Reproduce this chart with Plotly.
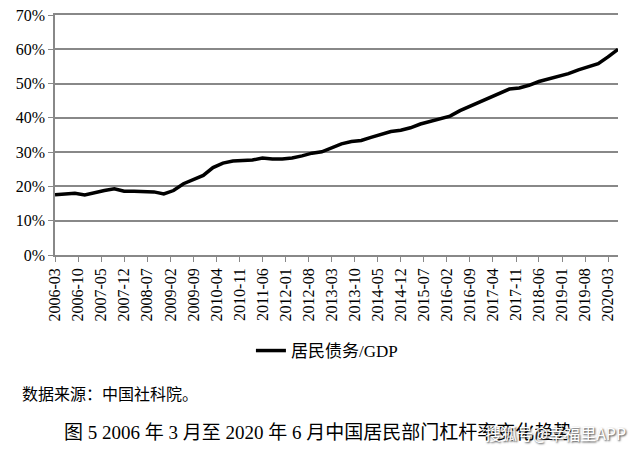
import pandas as pd
import plotly.graph_objects as go

# quarterly points, 2006-03 .. 2020-06
quarters = pd.date_range("2006-03-01", periods=58, freq="3MS")

# household debt / GDP (%)
debt_to_gdp = [
    17.6, 17.8, 18.0, 17.5, 18.2, 18.8, 19.3, 18.6, 18.6, 18.6,
    18.4, 17.8, 18.8, 20.8, 22.0, 23.2, 25.5, 26.8, 27.4, 27.5,
    27.7, 28.3, 28.0, 28.0, 28.3, 28.9, 29.7, 30.1, 31.3, 32.4,
    33.1, 33.4, 34.3, 35.2, 36.0, 36.4, 37.1, 38.2, 39.0, 39.6,
    40.5, 42.1, 43.4, 44.6, 46.0, 47.3, 48.4, 48.7, 49.5, 50.6,
    51.4, 52.1, 52.9, 54.0, 55.0, 55.8, 57.8, 60.0,
]

series_name = "居民债务/GDP"
source_text = "数据来源：中国社科院。"
caption_text = "图 5 2006 年 3 月至 2020 年 6 月中国居民部门杠杆率变化趋势"
watermark_text = "搜狐号@幸福里APP"

SERIF = "Liberation Serif, Noto Sans CJK SC, serif"
CJK = "Noto Sans CJK SC, sans-serif"

fig = go.Figure()
fig.add_trace(go.Scatter(x=quarters, y=debt_to_gdp, mode="lines", name=series_name,
                         line=dict(color="black", width=3.5)))

# mirror=True gives the top border that stands in for the 70% gridline
fig.update_xaxes(type="date", range=["2006-03-01", "2020-06-01"],
                 tick0="2006-03-01", dtick="M7", tickformat="%Y-%m",
                 tickangle=-90, ticks="outside", ticklen=5, tickcolor="#888",
                 showline=True, linecolor="#888", linewidth=1.5, mirror=True,
                 showgrid=False, zeroline=False, automargin=False,
                 tickfont=dict(family=SERIF, size=16, color="black"))
fig.update_yaxes(range=[0, 70], dtick=10, ticksuffix="%",
                 ticks="outside", ticklen=5, tickcolor="#888",
                 showline=True, linecolor="#888", linewidth=1.5,
                 showgrid=True, gridcolor="#888", gridwidth=1.5, zeroline=False,
                 automargin=False,
                 tickfont=dict(family=SERIF, size=16, color="black"))

fig.update_layout(
    width=641, height=452,
    margin=dict(l=55, r=23, t=15, b=197),
    paper_bgcolor="white", plot_bgcolor="white",
    showlegend=True,
    legend=dict(orientation="h", x=0.483, xanchor="center", y=-0.4, yanchor="middle",
                font=dict(family=SERIF, size=17, color="black")),
    annotations=[
        dict(text=source_text, xref="paper", yref="paper", x=-0.062, y=-0.575,
             xanchor="left", yanchor="middle", showarrow=False,
             font=dict(family=CJK, size=16, color="black")),
        dict(text=caption_text, xref="paper", yref="paper", x=0.467, y=-0.74,
             xanchor="center", yanchor="middle", showarrow=False,
             font=dict(family=SERIF, size=19, color="black")),
        dict(text=watermark_text, xref="paper", yref="paper", x=1.018, y=-0.74,
             xanchor="right", yanchor="middle", showarrow=False,
             font=dict(family=CJK, size=16, color="white", shadow="1px 1px 2px #333")),
    ],
)

# drop the default 8px page margin so the figure sits at the window corner
fig.write_html("out.html", config={"displayModeBar": False},
               post_script="document.body.style.margin='0';")
